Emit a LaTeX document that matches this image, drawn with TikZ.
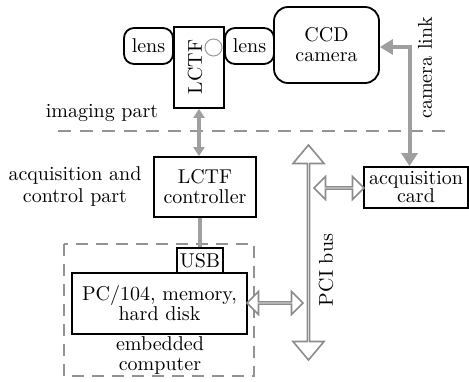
\documentclass[tikz,border=0pt]{standalone}
\usepackage{amsmath}
\usetikzlibrary{arrows.meta,shapes.arrows,calc}
\tikzset{box/.style={draw,line width=0.9pt,align=center,inner sep=1pt},
         lensbox/.style={box,rounded corners=5pt},
         part/.style={draw=gray!85,line width=1.2pt,dash pattern=on 6.5pt off 4.5pt},
         bigline/.style={draw=gray!75,line width=2pt},
         hollow/.style={double arrow,draw=gray!90,line width=0.8pt,fill=white,
                        inner sep=0pt,double arrow head extend=3.5pt,minimum width=11.5pt},
         label/.style={align=center,inner sep=0pt}
         }

\begin{document}
\begin{tikzpicture}[x=0.5pt,y=-0.5pt]
\useasboundingbox (0,0) rectangle (469,381);
% imaging part
\node[lensbox,minimum width=24.5pt,minimum height=18pt] (lensA) at (148.5,46) {lens};
\node[box,minimum width=25pt,minimum height=40.5pt] (lctf) at (199,67.5) {};
\node[label,rotate=90] (lctftext) at (195,67) {LCTF};
\node[draw=gray!80,circle,minimum size=8.5pt,inner sep=0pt,line width=0.5pt] (hole) at (213.5,47.5) {};
\node[lensbox,minimum width=24.5pt,minimum height=18pt] (lensB) at (249.5,46) {lens};
\node[lensbox,rounded corners=7pt,minimum width=52.5pt,minimum height=38pt] (ccd) at (326.5,45) {CCD\\[-2pt]camera};
\node[label] (imaging) at (102,113) {imaging part};
\coordinate (sepL) at (58,131);
\coordinate (sepR) at (452,131);
\draw[part] (sepL) -- (sepR);
% acquisition and control part
\node[label] (acqpart) at (75,186) {acquisition and\\[-1pt]control part};
\node[box,minimum width=51pt,minimum height=30pt] (ctrl) at (205,187) {LCTF\\[-2pt]controller};
\node[box,minimum width=52pt,minimum height=20.5pt] (card) at (416,187.5) {acquisition\\[-3pt]card};
\node[hollow,rotate=90,minimum height=107.5pt,minimum width=15.5pt,
      double arrow head extend=5pt,double arrow tip angle=80] (bus) at (308.5,252.5) {};
\node[label,rotate=90] (bustext) at (326,270) {PCI bus};
\node[hollow,minimum height=25pt] (cardlink) at (339,188) {};
% embedded computer
\coordinate (embNW) at (64,244);
\coordinate (embSE) at (254,376);
\draw[part,line width=1pt,dash pattern=on 6pt off 4pt] (embNW) rectangle (embSE);
\node[box,minimum width=23pt,minimum height=12.5pt,inner sep=0pt] (usb) at (200,260.5) {USB};
\node[box,minimum width=87.5pt,minimum height=30.5pt] (pc) at (159.5,303.5) {PC/104, memory,\\[-2pt]hard disk};
\node[label] (embtext) at (160,355) {embedded\\[-2pt]computer};
\node[hollow,minimum height=28pt] (pclink) at (275,303) {};
% connectors
\draw[bigline,{Triangle[length=4.5pt,width=5.5pt]}-{Triangle[length=4.5pt,width=5.5pt]}]
  (lctf.south) -- (lctf.south |- ctrl.north);
\draw[bigline] (usb.north |- ctrl.south) -- (usb.north);
\coordinate (bend) at (409.5,47);
\draw[bigline,{Triangle[length=6.5pt,width=7.5pt]}-{Triangle[length=6.5pt,width=8pt]}]
  (ccd.east |- bend) -- (bend) -- (bend |- card.north);
\node[label,rotate=90] (linktext) at (425,68) {camera link};
\end{tikzpicture}
\end{document}
